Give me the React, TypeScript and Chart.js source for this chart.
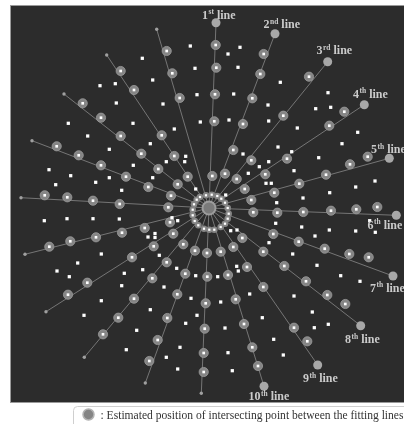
import { useEffect, useRef } from "react";
import { Chart, registerables } from "chart.js";

Chart.register(...registerables);

// Common crossing point of the fitted lines
const centerX = 209;
const centerY = 208;

// Fitted lines: labelled end and far end
const lineOrdinals = ["1", "2", "3", "4", "5", "6", "7", "8", "9", "10"];
const lineSuffixes = ["st", "nd", "rd", "th", "th", "th", "th", "th", "th", "th"];
const labelledEndX = [216, 275, 327.7, 364.3, 389.3, 396.3, 393, 360.7, 317.7, 264];
const labelledEndY = [22.7, 33.7, 61.7, 104.7, 158.3, 215.3, 276, 325.7, 365, 386.3];
const farEndX = [201.3, 145.3, 84.3, 46, 25, 21, 32, 64, 106.7, 156.7];
const farEndY = [393.3, 383, 357.3, 311.7, 254.3, 197.7, 140.7, 94, 55, 29.3];

// Spots lying on the fitted lines
const linePoints: number[][] = [
  [215.7, 45], [216.3, 67.7], [215, 94.3], [214.3, 121.3], [212.3, 176],
  [207, 253], [207.3, 276.7], [205.7, 303.3], [204.7, 328.7], [203.7, 353], [203.7, 372],
  [263.7, 54], [260.3, 74], [252.3, 98.3], [243, 124], [233.3, 150], [225, 173.7],
  [195, 250.7], [185.3, 273.7], [177.3, 294.3], [167.3, 318], [157.7, 340], [149.3, 361],
  [309, 76.7], [283.3, 115.7], [251.3, 160.3], [236.7, 179],
  [183.3, 244.3], [166.7, 262.3], [152.3, 278.3], [134, 298.7], [118.3, 317.7], [103, 334.3],
  [344.3, 111.7], [329.3, 125.7], [287, 158.7], [265.3, 174.3], [244.7, 189],
  [173.3, 233.7], [153.7, 246.3], [132, 257.3], [87.3, 282.7], [68, 294.7],
  [367.7, 156.7], [350, 164.3], [326, 174.7], [299.3, 183.7], [274.3, 192.7], [251.3, 200],
  [170, 222.3], [144.7, 228], [122, 232.7], [96, 237.3], [70.3, 241.3], [49.3, 246.7],
  [253.3, 212.3], [277.3, 212.7], [303.3, 212], [331, 210.7], [356.3, 209.3], [377.3, 207],
  [168.3, 207.3], [119.7, 204], [93, 200.7], [67.3, 197.3], [44.7, 195.3],
  [273.3, 234], [298.7, 241.7], [324.7, 248.7], [349.3, 254], [368.7, 257.3],
  [171, 195.7], [148.3, 187], [126, 176.7], [101, 165.3], [78.7, 155.3], [56.7, 146.3],
  [242.3, 238], [263.3, 251.7], [284.3, 266], [306, 281.3], [327.3, 295], [345.3, 304],
  [177.7, 184.3], [158.3, 169], [141.3, 153.7], [120.7, 136], [101, 117.7], [82.7, 103.3],
  [233.3, 247], [247, 267], [263.3, 287], [294, 327.7], [307.3, 341.3],
  [187.7, 176.7], [174.3, 156], [161.7, 135.3], [134, 90], [120.7, 71],
  [220.7, 251.7], [228, 275], [235.7, 299.3], [244, 324], [252.3, 347.3], [258, 366],
  [179.7, 98], [172.3, 73.3], [166.7, 51],
];

// Spots between the lines
const offLinePoints: number[][] = [
  [190.3, 46], [142.3, 58.3], [195, 68.3], [152.7, 80], [100, 85.7], [115.3, 83.7],
  [197, 94.7], [163, 104], [116.3, 103], [200.3, 122], [68.3, 123.3], [133, 123.3],
  [174.3, 129], [87.7, 136], [150.3, 143.7], [109.3, 149.3], [185.7, 156.3], [166.3, 161.7],
  [184.7, 161.7], [133.3, 165.3], [49, 169.7], [70.7, 175.7], [109.3, 177.7], [152.7, 177.7],
  [95.7, 182.3], [55.7, 184.7], [121.7, 190.3], [195.7, 189],
  [240, 47.3], [228, 54], [238, 67.3], [280.3, 82.3], [233.7, 94], [328, 92.7],
  [268, 105], [315.7, 108.7], [330.7, 107.3], [229, 120], [268.7, 121], [297.3, 128],
  [357.7, 132.3], [342, 143.7], [278, 147], [291.7, 151.7], [243, 154], [318.7, 157.7],
  [259.3, 166.7], [268.7, 161.7], [294, 170.7], [248.3, 173.3], [266, 183.3], [271.3, 183.3],
  [375, 181], [355.7, 187], [329.7, 192.7], [303, 198], [276.7, 202.7], [225.7, 195],
  [44.3, 220.7], [67, 218.7], [93, 218.7], [119.3, 219], [172, 217.7], [177.7, 220.7],
  [148, 237], [155, 233.5], [155, 237.5], [101.3, 254], [77.7, 263], [159.3, 255.3],
  [57, 271], [69.3, 276.7], [124.3, 273.3], [142.7, 269.7], [176.7, 268.3], [195.7, 275.7],
  [121.7, 285.7], [164, 287], [101.3, 300.7], [191, 298.3], [84, 315.3], [150.3, 309.7],
  [197, 315.3], [185.7, 323.3], [136.7, 330.3], [126.3, 349.7], [180, 347.3], [166.3, 357.3],
  [177.7, 369],
  [275.7, 223.3], [301.7, 227], [329.3, 230], [355.7, 231], [369.7, 220.7], [375.3, 232.3],
  [315, 236], [230.7, 230.7], [237, 230], [269, 242.7], [292.7, 254], [317, 265.3],
  [236.7, 266.3], [238.3, 271], [217.7, 276.7], [340.7, 275.7], [360, 281.3], [249.7, 294],
  [294, 296], [220.7, 302], [312.3, 312], [262.3, 317.7], [328.3, 324.3], [314.3, 327.7],
  [225, 328], [273.7, 339.3], [228, 352.7], [283.3, 355], [232.3, 370.7],
];

// Inner ring of spots around the crossing point
const ringPoints: number[][] = [
  [200, 197], [206, 195.3], [211.7, 194.7], [217.3, 196], [221.3, 198.7], [225, 202.7],
  [227.7, 208], [228.7, 213.7], [227.7, 218.7], [225, 223.7], [220.7, 227], [214.3, 229.7],
  [209.3, 229.7], [204, 228.7], [198.3, 225.3], [194.7, 221], [192.7, 215.3], [192.7, 209.7],
  [194, 204.3], [196.7, 199.7],
];

// Label anchors: [left x, baseline y]
const labelAnchors: number[][] = [
  [202, 18.5], [263.5, 28], [316.5, 54], [353, 97.5], [371, 153],
  [367.5, 228.5], [370, 291.5], [345, 343], [303, 382], [248.5, 400],
];

const legendText = ": Estimated position of intersecting point between the fitting lines";

const pts = (arr: number[][]) => arr.map(([x, y]) => ({ x, y }));

export default function App() {
  const canvasRef = useRef<HTMLCanvasElement | null>(null);

  useEffect(() => {
    const canvas = canvasRef.current;
    if (!canvas) return;

    const lineSets = lineOrdinals.map((_, i) => ({
      type: "scatter" as const,
      data: [
        { x: labelledEndX[i], y: labelledEndY[i] },
        { x: centerX, y: centerY },
        { x: farEndX[i], y: farEndY[i] },
      ],
      showLine: true,
      borderColor: "rgba(185,185,185,0.65)",
      borderWidth: 0.8,
      pointRadius: 0,
      order: 20,
    }));

    const backdrop = {
      id: "backdrop",
      beforeDatasetsDraw(chart: any) {
        const { ctx, scales } = chart;
        const x0 = scales.x.getPixelForValue(10);
        const x1 = scales.x.getPixelForValue(404);
        const y0 = scales.y.getPixelForValue(5);
        const y1 = scales.y.getPixelForValue(403);
        ctx.save();
        ctx.fillStyle = "#2c2c2c";
        ctx.fillRect(x0, y0, x1 - x0, y1 - y0);
        ctx.strokeStyle = "#9a9a9a";
        ctx.lineWidth = 1;
        ctx.strokeRect(x0 + 0.5, y0 + 0.5, x1 - x0, y1 - y0 - 1);
        ctx.restore();
      },
    };

    const annotations = {
      id: "annotations",
      afterDatasetsDraw(chart: any) {
        const { ctx, scales } = chart;
        ctx.save();
        ctx.fillStyle = "#cbcbcb";
        ctx.textBaseline = "alphabetic";
        lineOrdinals.forEach((num, i) => {
          let x = scales.x.getPixelForValue(labelAnchors[i][0]);
          const y = scales.y.getPixelForValue(labelAnchors[i][1]);
          ctx.font = "bold 12px 'Liberation Serif', 'DejaVu Serif', serif";
          ctx.fillText(num, x, y);
          x += ctx.measureText(num).width + 0.5;
          ctx.font = "bold 7.5px 'Liberation Serif', 'DejaVu Serif', serif";
          ctx.fillText(lineSuffixes[i], x, y - 4.5);
          x += ctx.measureText(lineSuffixes[i]).width;
          ctx.font = "bold 12px 'Liberation Serif', 'DejaVu Serif', serif";
          ctx.fillText(" line", x, y);
        });

        // legend key below the panel
        const lx0 = scales.x.getPixelForValue(73);
        const ly0 = scales.y.getPixelForValue(406);
        ctx.strokeStyle = "#cfcfcf";
        ctx.lineWidth = 1;
        ctx.beginPath();
        const r = 4;
        ctx.moveTo(lx0 + 0.5 + r, ly0 + 0.5);
        ctx.lineTo(420, ly0 + 0.5);
        ctx.moveTo(lx0 + 0.5, 430);
        ctx.lineTo(lx0 + 0.5, ly0 + 0.5 + r);
        ctx.arcTo(lx0 + 0.5, ly0 + 0.5, lx0 + 0.5 + r, ly0 + 0.5, r);
        ctx.stroke();

        const cx = scales.x.getPixelForValue(88.5);
        const cy = scales.y.getPixelForValue(414.5);
        ctx.beginPath();
        ctx.arc(cx, cy, 5.5, 0, Math.PI * 2);
        ctx.fillStyle = "#858585";
        ctx.fill();
        ctx.strokeStyle = "#b3b3b3";
        ctx.lineWidth = 1.5;
        ctx.stroke();

        ctx.fillStyle = "#333333";
        ctx.font = "12px 'Liberation Serif', 'DejaVu Serif', serif";
        const tx = scales.x.getPixelForValue(100.5);
        const ty = scales.y.getPixelForValue(418.5);
        ctx.fillText(legendText, tx, ty, 303);
        ctx.restore();
      },
    };

    const chart = new Chart(canvas, {
      type: "scatter",
      data: {
        datasets: [
          ...lineSets,
          {
            data: [{ x: centerX, y: centerY }],
            pointRadius: 6.5,
            backgroundColor: "#7a7a7a",
            borderColor: "#9d9d9d",
            borderWidth: 2,
            order: 4,
          },
          {
            data: labelledEndX.map((x, i) => ({ x, y: labelledEndY[i] })),
            pointRadius: 4.5,
            backgroundColor: "#a8a8a8",
            borderWidth: 0,
            order: 4,
          },
          {
            data: farEndX.map((x, i) => ({ x, y: farEndY[i] })),
            pointRadius: 1.7,
            backgroundColor: "#a0a0a0",
            borderWidth: 0,
            order: 4,
          },
          {
            data: pts(linePoints),
            pointRadius: 4.6,
            backgroundColor: "#858585",
            borderColor: "#9a9a9a",
            borderWidth: 0.8,
            order: 3,
          },
          {
            data: pts(ringPoints),
            pointRadius: 3.3,
            backgroundColor: "#858585",
            borderWidth: 0,
            order: 3,
          },
          {
            data: pts(linePoints),
            pointStyle: "rect",
            pointRadius: 1.9,
            backgroundColor: "#ffffff",
            borderWidth: 0,
            order: 1,
          },
          {
            data: pts(ringPoints),
            pointStyle: "rect",
            pointRadius: 1.6,
            backgroundColor: "#ffffff",
            borderWidth: 0,
            order: 1,
          },
          {
            data: pts(offLinePoints),
            pointStyle: "rect",
            pointRadius: 2.3,
            backgroundColor: "#ffffff",
            borderWidth: 0,
            order: 1,
          },
        ],
      },
      options: {
        responsive: false,
        animation: false,
        events: [],
        layout: { padding: 0, autoPadding: false },
        scales: {
          x: { type: "linear", min: 0, max: 404, display: false },
          y: { type: "linear", min: 0, max: 424, reverse: true, display: false },
        },
        plugins: {
          legend: { display: false },
          tooltip: { enabled: false },
        },
      },
      plugins: [backdrop, annotations],
    } as any);

    return () => chart.destroy();
  }, []);

  return (
    <div style={{ position: "fixed", left: 0, top: 0, width: 404, height: 424 }}>
      <canvas ref={canvasRef} width={404} height={424} style={{ display: "block" }} />
    </div>
  );
}
